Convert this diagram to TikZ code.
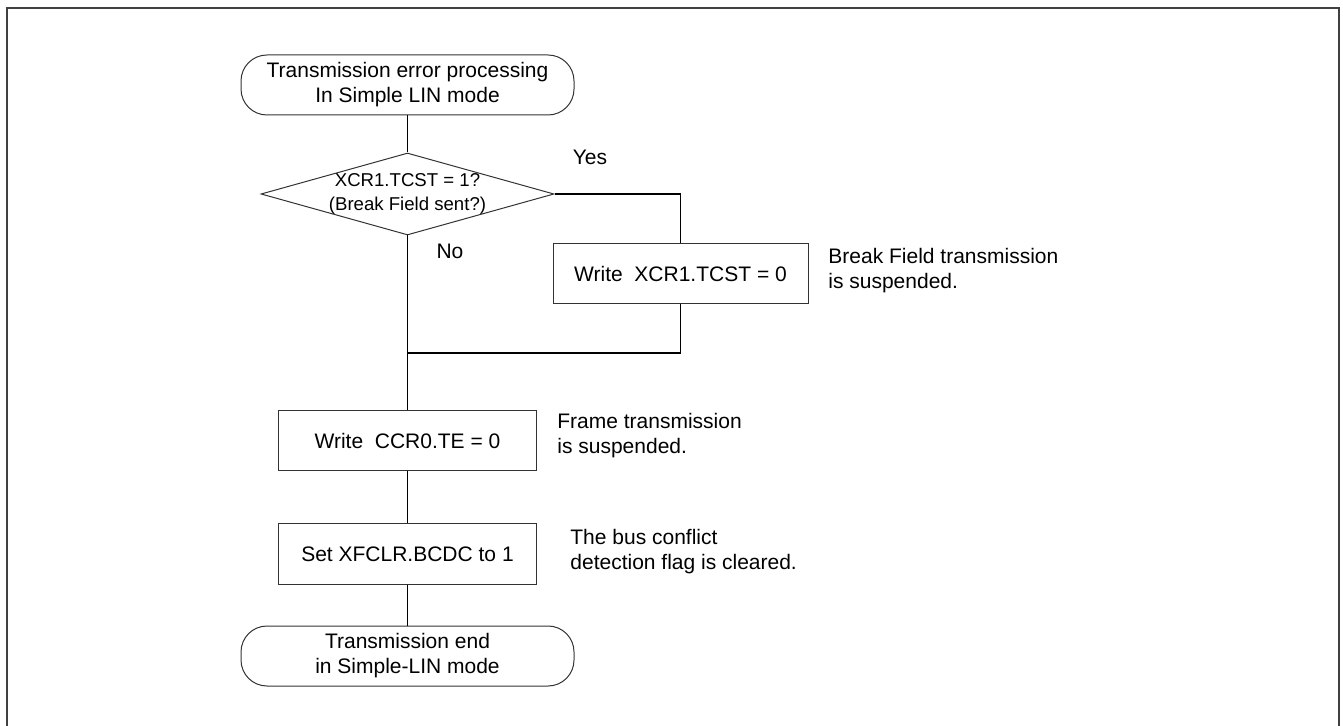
\documentclass[tikz,border=0pt]{standalone}
\usepackage{xcolor}
\usepackage{fontspec}
\setmainfont{Liberation Sans}
\usetikzlibrary{shapes.geometric}

\begin{document}
\begin{tikzpicture}[x=0.5pt,y=-0.5pt,
    txt/.style={font=\fontsize{10.5}{12.5}\selectfont},
    termbox/.style={txt,draw=black!80,line width=0.5pt,rounded corners=13pt,
        minimum width=166.5pt,minimum height=30pt,align=center,inner sep=0pt},
    procbox/.style={txt,draw=black!80,line width=0.5pt,
        minimum width=129pt,minimum height=30pt,align=center,inner sep=0pt},
    decbox/.style={diamond,draw=black!80,line width=0.5pt,
        minimum width=146.5pt,minimum height=41pt,inner sep=0pt},
    notetext/.style={txt,anchor=west,align=left,inner sep=0pt},
    flowline/.style={black,line width=0.8pt}]

    % 画布与外框
    \useasboundingbox (0,0) rectangle (1343,726);
    \draw[black!75,line width=1pt] (7,726) -- (7,8) -- (1339,8) -- (1339,726);

    % 流程节点
    \node[termbox] (start) at (407.5,85) {Transmission error processing\\In Simple LIN mode};
    \node[decbox] (check) at (407.5,194) {};
    \node[font=\fontsize{9.3}{12}\selectfont,align=center,inner sep=0pt] (checktext) at (check)
        {XCR1.TCST = 1?\\(Break Field sent?)};
    \node[procbox,minimum width=127.5pt] (xcrbox) at (680.5,274) {Write\ \ XCR1.TCST = 0};
    \node[procbox] (ccrbox) at (407.5,440.5) {Write\ \ CCR0.TE = 0};
    \node[procbox] (bcdcbox) at (407.5,554) {Set XFCLR.BCDC to 1};
    \node[termbox] (finish) at (407.5,656) {Transmission end\\in Simple-LIN mode};

    % 汇合点
    \coordinate (merge) at (407.5,353);

    % 连线
    \draw[flowline] (start) -- (check);
    \draw[flowline] (check.east) -| (xcrbox.north);
    \draw[flowline] (xcrbox.south) |- (merge);
    \draw[flowline] (check.south) -- (ccrbox.north);
    \draw[flowline] (ccrbox) -- (bcdcbox);
    \draw[flowline] (bcdcbox) -- (finish);

    % 分支文字
    \node[txt] (yes) at (590,157) {Yes};
    \node[txt] (no) at (450,251) {No};

    % 说明文字
    \node[notetext] (xcrnote) at (828,271) {Break Field transmission\\is suspended.};
    \node[notetext] (ccrnote) at (557,436) {Frame transmission\\is suspended.};
    \node[notetext] (bcdcnote) at (570,552) {The bus conflict\\detection flag is cleared.};

\end{tikzpicture}
\end{document}
